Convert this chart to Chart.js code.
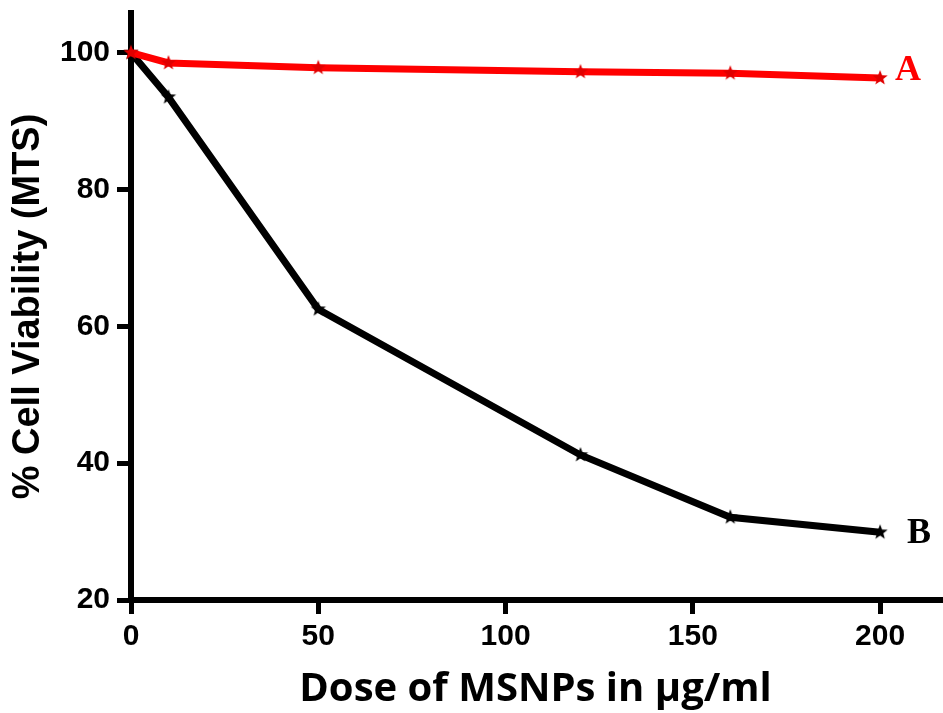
<!DOCTYPE html>
<html>
<head>
<meta charset="utf-8">
<script src="https://cdn.jsdelivr.net/npm/chart.js@4.4.1/dist/chart.umd.min.js"></script>
<style>
  html, body { margin: 0; padding: 0; background: #fff; }
  #wrap { width: 943px; height: 713px; }
</style>
</head>
<body>
<div id="wrap"><canvas id="viabilityChart" width="943" height="713"></canvas></div>
<script>
// dose of MSNPs (ug/ml)
const doses = [0, 10, 50, 120, 160, 200];
// % cell viability
const seriesA = [100, 98.5, 97.8, 97.2, 97.0, 96.3];
const seriesB = [100, 93.5, 62.5, 41.2, 32.1, 29.9];
const seriesNames = ['A', 'B'];
const xTicks = [0, 50, 100, 150, 200];
const yTicks = [20, 40, 60, 80, 100];

function makeStar(color, r) {
  const c = document.createElement('canvas');
  const s = r * 2 + 2;
  c.width = s;
  c.height = s;
  const g = c.getContext('2d');
  g.fillStyle = color;
  g.beginPath();
  for (let i = 0; i < 10; i++) {
    const rad = i % 2 === 0 ? r : r * 0.42;
    const a = -Math.PI / 2 + i * Math.PI / 5;
    const px = s / 2 + rad * Math.cos(a);
    const py = s / 2 + rad * Math.sin(a);
    if (i === 0) g.moveTo(px, py); else g.lineTo(px, py);
  }
  g.closePath();
  g.fill();
  return c;
}

// letters A / B written just right of each curve's last point
const endLabels = {
  id: 'endLabels',
  afterDatasetsDraw(chart) {
    const ctx = chart.ctx;
    const offsets = [{ dx: 15, dy: -7 }, { dx: 27, dy: 1 }];
    ctx.save();
    ctx.font = 'bold 36px "Liberation Serif", "Times New Roman", serif';
    ctx.textAlign = 'left';
    ctx.textBaseline = 'middle';
    chart.data.datasets.forEach((ds, i) => {
      const meta = chart.getDatasetMeta(i);
      const last = meta.data[meta.data.length - 1];
      if (!last) return;
      ctx.fillStyle = ds.borderColor;
      ctx.fillText(seriesNames[i], last.x + offsets[i].dx, last.y + offsets[i].dy);
    });
    ctx.restore();
  }
};

const tickFont = { family: '"Liberation Sans", Arial, sans-serif', size: 30, weight: 'bold' };

new Chart(document.getElementById('viabilityChart'), {
  type: 'line',
  data: {
    labels: doses,
    datasets: [
      {
        label: seriesNames[0],
        data: doses.map((d, i) => ({ x: d, y: seriesA[i] })),
        borderColor: '#ff0000',
        borderWidth: 7,
        pointStyle: makeStar('#e00000', 8),
        pointRadius: 8,
        tension: 0,
        clip: false
      },
      {
        label: seriesNames[1],
        data: doses.map((d, i) => ({ x: d, y: seriesB[i] })),
        borderColor: '#000000',
        borderWidth: 7,
        pointStyle: makeStar('#000000', 8),
        pointRadius: 8,
        tension: 0,
        clip: false
      }
    ]
  },
  options: {
    responsive: false,
    animation: false,
    layout: { autoPadding: false, padding: { left: 0, right: 3, top: 13, bottom: 0 } },
    plugins: {
      legend: { display: false },
      tooltip: { enabled: false }
    },
    scales: {
      x: {
        type: 'linear',
        min: 0,
        max: 216,
        afterBuildTicks: scale => { scale.ticks = xTicks.map(v => ({ value: v })); },
        afterFit: scale => {
          scale.height = 113;
          scale.paddingLeft = 0;
          scale.paddingRight = 0;
        },
        grid: { drawOnChartArea: false, drawTicks: true, tickLength: 14, color: '#000', lineWidth: 5 },
        border: { display: true, color: '#000', width: 6 },
        ticks: { color: '#000', font: tickFont, padding: 5, maxRotation: 0 },
        title: {
          display: true,
          text: 'Dose of MSNPs in µg/ml',
          color: '#000',
          font: { family: '"Open Sans", "Noto Sans", sans-serif', size: 40, weight: 'bold', lineHeight: 1 },
          padding: { top: 0, bottom: 3 }
        }
      },
      y: {
        min: 20,
        max: 105.8,
        afterBuildTicks: scale => { scale.ticks = yTicks.map(v => ({ value: v })); },
        afterFit: scale => {
          scale.width = 131;
          scale.paddingTop = 0;
          scale.paddingBottom = 0;
        },
        grid: { drawOnChartArea: false, drawTicks: true, tickLength: 14, color: '#000', lineWidth: 5 },
        border: { display: true, color: '#000', width: 6 },
        ticks: { color: '#000', font: tickFont, padding: 7 },
        title: {
          display: true,
          text: '% Cell Viability (MTS)',
          color: '#000',
          font: { family: '"Liberation Sans", Arial, sans-serif', size: 38, weight: 'bold', lineHeight: 1 },
          padding: { top: 10, bottom: 0 }
        }
      }
    }
  },
  plugins: [endLabels]
});
</script>
</body>
</html>
